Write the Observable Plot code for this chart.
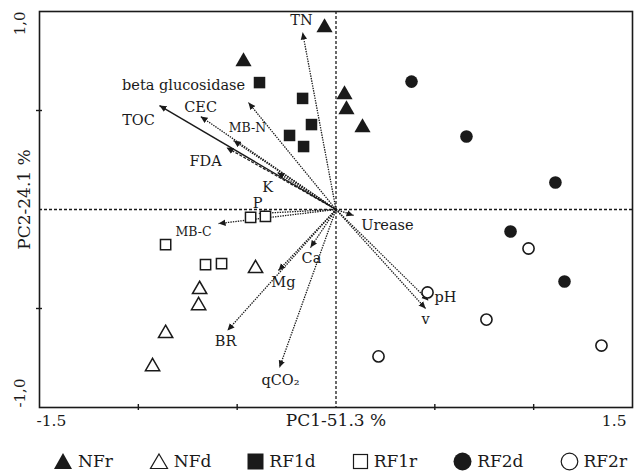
<!DOCTYPE html>
<html>
<head>
<meta charset="utf-8">
<script src="https://cdn.jsdelivr.net/npm/d3@7"></script>
<script src="https://cdn.jsdelivr.net/npm/@observablehq/plot@0.6"></script>
<style>
  html, body { margin: 0; padding: 0; background: #fff; }
  #chart { width: 642px; }
  .legend { display: flex; align-items: center; justify-content: flex-start; gap: 36px;
    font-family: "DejaVu Serif", serif; font-size: 17px; color: #1a1a1a; padding-left: 53px; height: 38px; padding-top: 2px; }
  .legend span { display: inline-flex; align-items: center; gap: 5px; }
</style>
</head>
<body>
<div id="chart"></div>
<script>
// ---- data (PCA scores by group) ----
const groups = ["NFr", "NFd", "RF1d", "RF1r", "RF2d", "RF2r"];
const NFr  = [[-0.058, 0.919], [-0.468, 0.747], [0.043, 0.581], [0.053, 0.505], [0.134, 0.414]];
const NFd  = [[-0.407, -0.298], [-0.690, -0.404], [-0.695, -0.485], [-0.862, -0.626], [-0.928, -0.793]];
const RF1d = [[-0.387, 0.641], [-0.169, 0.561], [-0.124, 0.429], [-0.235, 0.374], [-0.164, 0.318]];
const RF1r = [[-0.432, -0.040], [-0.357, -0.035], [-0.862, -0.177], [-0.660, -0.278], [-0.579, -0.273]];
const RF2d = [[0.382, 0.646], [0.660, 0.369], [1.110, 0.136], [0.883, -0.111], [1.156, -0.364]];
const RF2r = [[0.974, -0.197], [0.463, -0.419], [0.761, -0.556], [0.215, -0.742], [1.343, -0.687]];

// ---- loadings (arrow tips) ----
const variables = ["TN", "beta glucosidase", "CEC", "MB-N", "TOC", "FDA", "K", "P", "MB-C", "Ca", "Mg", "BR", "qCO₂", "Urease", "pH", "v"];
const loadX = [-0.169, -0.443, -0.685, -0.518, -0.893, -0.554, -0.296, -0.392, -0.594, -0.129, -0.291, -0.549, -0.286, 0.089, 0.468, 0.453];
const loadY = [0.894, 0.540, 0.470, 0.348, 0.525, 0.313, 0.187, -0.020, -0.071, -0.192, -0.308, -0.611, -0.798, -0.030, -0.460, -0.500];
// label anchor positions (data units)
const labelX = [-0.175, -0.771, -0.685, -0.448, -0.999, -0.660, -0.346, -0.397, -0.721, -0.124, -0.266, -0.559, -0.281, 0.260, 0.554, 0.453];
const labelY = [0.955, 0.627, 0.518, 0.414, 0.449, 0.242, 0.111, 0.030, -0.116, -0.247, -0.369, -0.667, -0.864, -0.081, -0.444, -0.556];
const lineKind = ["dot", "dot", "dot", "dot", "solid", "dash", "dot", "dot", "dot", "dot", "dot", "dot", "dot", "dot", "dot", "dot"];

const xTicks = [-1, -0.5, 0.5, 1];
const yTicks = [-0.5, 0.5];
const xTickLabels = [{v: -1.5, t: "-1.5"}, {v: 1.5, t: "1.5"}];
const yTickLabels = [{v: 1, t: "1,0"}, {v: -1, t: "-1,0"}];
const xTitle = "PC1-51.3 %";
const yTitle = "PC2-24.1 %";

const font = "DejaVu Serif, serif";
const ink = "#1a1a1a";

const loadings = variables.map((name, i) => ({name, x: loadX[i], y: loadY[i], lx: labelX[i], ly: labelY[i], kind: lineKind[i]}));
const toRows = arr => arr.map(([x, y]) => ({x, y}));

function headMarker(color, context) {
  const ns = "http://www.w3.org/2000/svg";
  const doc = (context && context.document) || document;
  const m = doc.createElementNS(ns, "marker");
  m.setAttribute("viewBox", "-7 -4 8 8");
  m.setAttribute("markerWidth", "8");
  m.setAttribute("markerHeight", "8");
  m.setAttribute("markerUnits", "userSpaceOnUse");
  m.setAttribute("refX", "0");
  m.setAttribute("refY", "0");
  m.setAttribute("orient", "auto");
  const p = doc.createElementNS(ns, "path");
  p.setAttribute("d", "M-7,-3.2L0,0L-7,3.2Z");
  p.setAttribute("fill", ink);
  p.setAttribute("stroke", "none");
  m.appendChild(p);
  return m;
}

const linkStyle = {
  dot: {strokeDasharray: "1.4,1.1", strokeWidth: 1.3},
  dash: {strokeDasharray: "3,1.5", strokeWidth: 1.2},
  solid: {strokeWidth: 1.4}
};

const arrowMarks = ["dot", "dash", "solid"].map(kind =>
  Plot.link(loadings.filter(d => d.kind === kind), {
    x1: () => 0, y1: () => 0, x2: "x", y2: "y",
    stroke: ink, markerEnd: headMarker, ...linkStyle[kind]
  })
);

const small = new Set(["MB-N", "MB-C"]);

const chart = Plot.plot({
  width: 642,
  height: 440,
  marginTop: 11,
  marginBottom: 33,
  marginLeft: 39,
  marginRight: 10,
  style: {fontFamily: font, background: "#fff", color: ink},
  x: {domain: [-1.5, 1.5], axis: null},
  y: {domain: [-1, 1], axis: null},
  marks: [
    Plot.ruleX([0], {stroke: ink, strokeDasharray: "3,2", strokeWidth: 1.3}),
    Plot.ruleY([0], {stroke: ink, strokeDasharray: "3,2", strokeWidth: 1.3}),
    ...arrowMarks,
    Plot.dot(toRows(NFr), {x: "x", y: "y", symbol: "triangle", r: 6, fill: ink}),
    Plot.dot(toRows(NFd), {x: "x", y: "y", symbol: "triangle", r: 5.3, fill: "white", stroke: ink, strokeWidth: 1.5}),
    Plot.dot(toRows(RF1d), {x: "x", y: "y", symbol: "square", r: 6.5, fill: ink}),
    Plot.dot(toRows(RF1r), {x: "x", y: "y", symbol: "square", r: 5.8, fill: "white", stroke: ink, strokeWidth: 1.5}),
    Plot.dot(toRows(RF2d), {x: "x", y: "y", symbol: "circle", r: 6.3, fill: ink}),
    Plot.dot(toRows(RF2r), {x: "x", y: "y", symbol: "circle", r: 5.6, fill: "white", stroke: ink, strokeWidth: 1.6}),
    Plot.text(loadings.filter(d => !small.has(d.name)), {x: "lx", y: "ly", text: "name", fontSize: 14.5, fill: ink, fontFamily: font}),
    Plot.text(loadings.filter(d => small.has(d.name)), {x: "lx", y: "ly", text: "name", fontSize: 12.5, fill: ink, fontFamily: font}),
    Plot.frame({stroke: ink, strokeWidth: 1.6}),
    Plot.axisX({ticks: xTicks, tickSize: 6, dy: -3, anchor: "bottom", tickFormat: () => "", stroke: ink, strokeWidth: 1.4}),
    Plot.axisY({ticks: yTicks, tickSize: 6, dx: 3, anchor: "left", tickFormat: () => "", stroke: ink, strokeWidth: 1.4}),
    Plot.text(xTickLabels.slice(0, 1), {x: "v", text: "t", frameAnchor: "bottom", dy: 18, textAnchor: "start", dx: -3, fontSize: 15.5, fill: ink}),
    Plot.text(xTickLabels.slice(1), {x: "v", text: "t", frameAnchor: "bottom", dy: 18, textAnchor: "end", dx: -6, fontSize: 15.5, fill: ink}),
    Plot.text([xTitle], {frameAnchor: "bottom", dy: 18, textAnchor: "middle", fontSize: 17, fill: ink}),
    Plot.text(yTickLabels.slice(0, 1), {y: "v", text: "t", frameAnchor: "left", dx: -19, rotate: -90, textAnchor: "end", fontSize: 15, fill: ink}),
    Plot.text(yTickLabels.slice(1), {y: "v", text: "t", frameAnchor: "left", dx: -19, rotate: -90, textAnchor: "start", fontSize: 15, fill: ink}),
    Plot.text([yTitle], {frameAnchor: "left", dx: -15, dy: -10, rotate: -90, textAnchor: "middle", fontSize: 17, fill: ink})
  ]
});
document.getElementById("chart").appendChild(chart);

// legend
const legendSymbols = {
  NFr: '<svg width="20" height="18"><path d="M10,1L19,17L1,17Z" fill="#1a1a1a"/></svg>',
  NFd: '<svg width="20" height="18"><path d="M10,2L18.5,16.5L1.5,16.5Z" fill="white" stroke="#1a1a1a" stroke-width="1.2"/></svg>',
  RF1d: '<svg width="17" height="17"><rect x="0.5" y="0.5" width="16" height="16" fill="#1a1a1a"/></svg>',
  RF1r: '<svg width="17" height="17"><rect x="1.5" y="1.5" width="14" height="14" fill="white" stroke="#1a1a1a" stroke-width="1.2"/></svg>',
  RF2d: '<svg width="19" height="19"><circle cx="9.5" cy="9.5" r="9" fill="#1a1a1a"/></svg>',
  RF2r: '<svg width="19" height="19"><circle cx="9.5" cy="9.5" r="8.3" fill="white" stroke="#1a1a1a" stroke-width="1.2"/></svg>'
};
const leg = document.createElement("div");
leg.className = "legend";
leg.innerHTML = groups.map(g => `<span>${legendSymbols[g]}${g}</span>`).join("");
document.body.appendChild(leg);
</script>
</body>
</html>
